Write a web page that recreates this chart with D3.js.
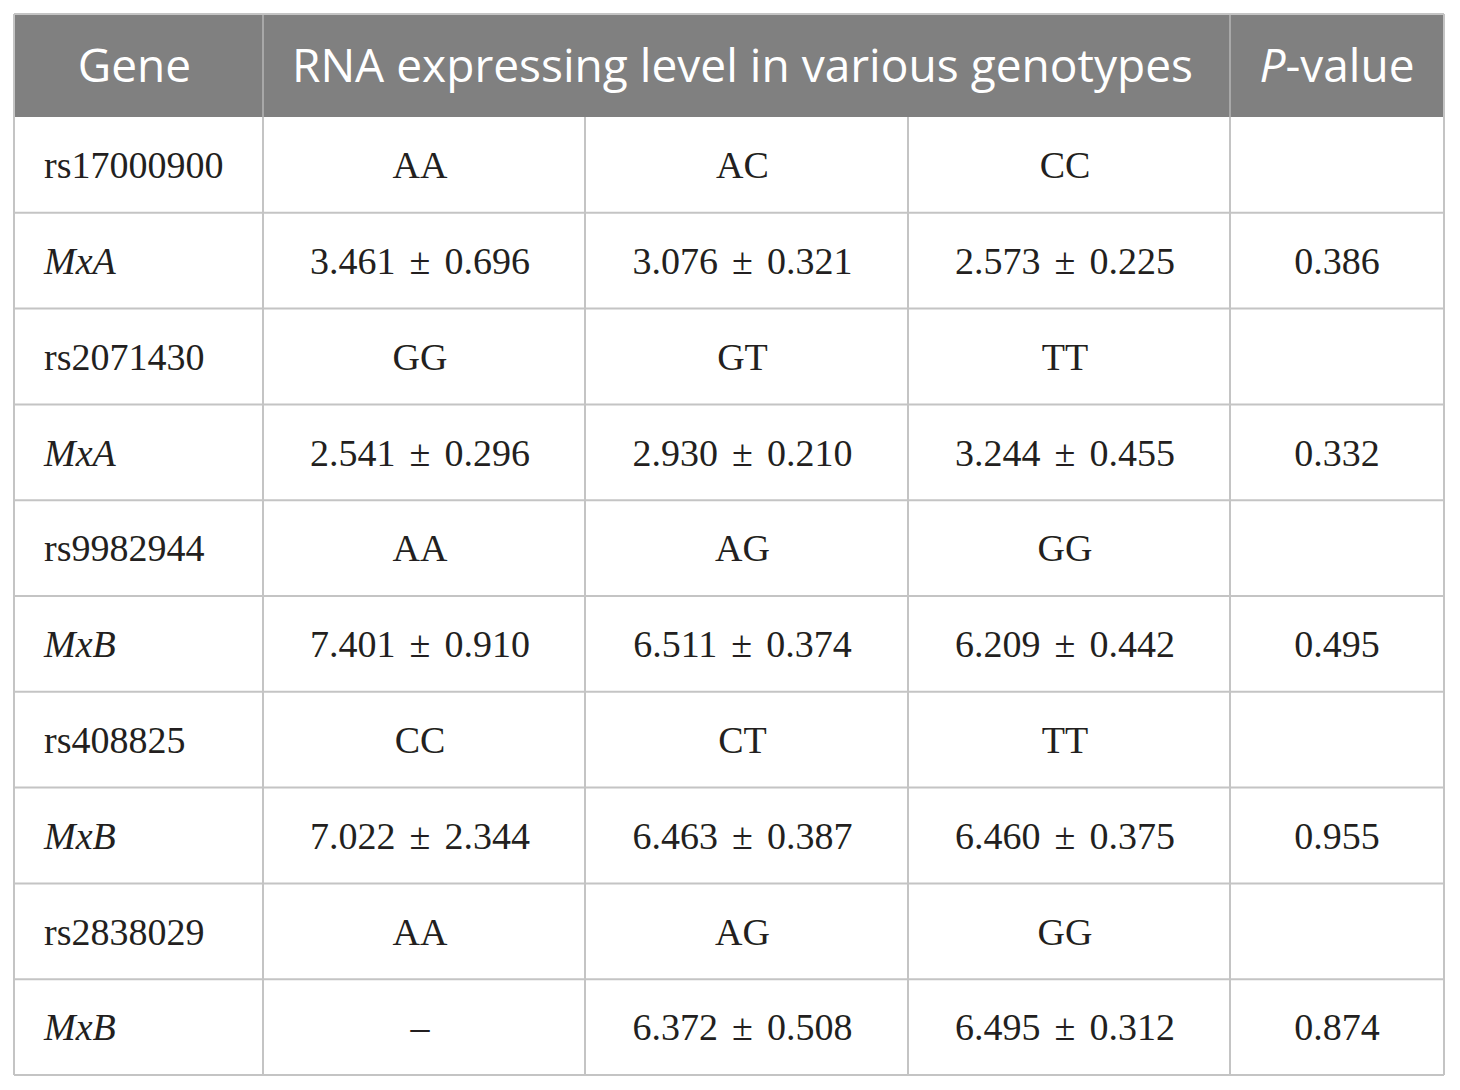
<!DOCTYPE html>
<html>
<head>
<meta charset="utf-8">
<script src="https://cdn.jsdelivr.net/npm/d3@7"></script>
<style>
    body { margin: 0; background: #fff; }
    svg { display: block; }
</style>
</head>
<body>
<svg id="chart" width="1460" height="1090"></svg>
<script>
// table data
const headers = ["Gene", "RNA expressing level in various genotypes", "P-value"];
const snps = ["rs17000900", "rs2071430", "rs9982944", "rs408825", "rs2838029"];
const genotypes = [
    ["AA", "AC", "CC"],
    ["GG", "GT", "TT"],
    ["AA", "AG", "GG"],
    ["CC", "CT", "TT"],
    ["AA", "AG", "GG"]
];
const genes = ["MxA", "MxA", "MxB", "MxB", "MxB"];
const means = [
    [3.461, 3.076, 2.573],
    [2.541, 2.930, 3.244],
    [7.401, 6.511, 6.209],
    [7.022, 6.463, 6.460],
    [null, 6.372, 6.495]
];
const sds = [
    [0.696, 0.321, 0.225],
    [0.296, 0.210, 0.455],
    [0.910, 0.374, 0.442],
    [2.344, 0.387, 0.375],
    [null, 0.508, 0.312]
];
const pValues = [0.386, 0.332, 0.495, 0.955, 0.874];

// layout
const colEdges = [14, 263, 585, 908, 1230, 1444];
const tableTop = 14, headerBottom = 117, tableBottom = 1075;
const nRows = snps.length * 2;

const svg = d3.select("#chart");
const fmt = d3.format(".3f");

const y = d3.scaleLinear().domain([0, nRows]).range([headerBottom, tableBottom]);
const rowH = y(1) - y(0);

// build body rows: each SNP row then gene row
const rows = [];
snps.forEach((snp, i) => {
    rows.push({ first: snp, italic: false, cells: genotypes[i], p: "" });
    rows.push({
        first: genes[i],
        italic: true,
        cells: means[i].map((m, j) => m == null ? "\u2013" : fmt(m) + " \u00b1 " + fmt(sds[i][j])),
        p: fmt(pValues[i])
    });
});

// header background
svg.append("rect")
    .attr("x", colEdges[0]).attr("y", tableTop)
    .attr("width", colEdges[5] - colEdges[0]).attr("height", headerBottom - tableTop)
    .attr("fill", "#808080");

// header separators
[colEdges[1], colEdges[4]].forEach(xp => {
    svg.append("line")
        .attr("x1", xp).attr("x2", xp)
        .attr("y1", tableTop).attr("y2", headerBottom)
        .attr("stroke", "#a8a8a8").attr("stroke-width", 2);
});

const headerCenters = [
    (colEdges[0] + colEdges[1]) / 2 - 4,
    (colEdges[1] + colEdges[4]) / 2 - 4,
    (colEdges[4] + colEdges[5]) / 2
];
const hy = (tableTop + headerBottom) / 2;
const hText = svg.append("g")
    .attr("font-family", "'Open Sans', 'Noto Sans', sans-serif")
    .attr("font-size", 46)
    .attr("fill", "#fff")
    .attr("text-anchor", "middle");

hText.append("text").attr("x", headerCenters[0]).attr("y", hy).attr("dy", "0.35em").text(headers[0]);
hText.append("text").attr("x", headerCenters[1]).attr("y", hy).attr("dy", "0.35em")
    .attr("textLength", 901).attr("lengthAdjust", "spacingAndGlyphs").text(headers[1]);
const pv = hText.append("text").attr("x", headerCenters[2]).attr("y", hy).attr("dy", "0.35em");
pv.append("tspan").attr("font-style", "italic").text("P");
pv.append("tspan").text("-value");

// body grid
const grid = svg.append("g").attr("stroke", "#c4c4c4").attr("stroke-width", 2);
d3.range(1, nRows + 1).forEach(r => {
    grid.append("line")
        .attr("x1", colEdges[0]).attr("x2", colEdges[5])
        .attr("y1", y(r)).attr("y2", y(r));
});
colEdges.forEach(xp => {
    grid.append("line")
        .attr("x1", xp).attr("x2", xp)
        .attr("y1", headerBottom).attr("y2", tableBottom);
});
// outer border on header
grid.append("line").attr("x1", colEdges[0]).attr("x2", colEdges[5]).attr("y1", tableTop).attr("y2", tableTop);
grid.append("line").attr("x1", colEdges[0]).attr("x2", colEdges[0]).attr("y1", tableTop).attr("y2", headerBottom);
grid.append("line").attr("x1", colEdges[5]).attr("x2", colEdges[5]).attr("y1", tableTop).attr("y2", headerBottom);

// body text
const body = svg.append("g")
    .attr("font-family", "'Liberation Serif', 'DejaVu Serif', serif")
    .attr("font-size", 38)
    .attr("fill", "#231f20");

const rowG = body.selectAll("g.row")
    .data(rows)
    .join("g")
    .attr("class", "row")
    .attr("transform", (d, i) => `translate(0,${y(i) + rowH / 2})`);

rowG.append("text")
    .attr("x", colEdges[0] + 30)
    .attr("dy", "0.35em")
    .attr("font-style", d => d.italic ? "italic" : "normal")
    .text(d => d.first);

[0, 1, 2].forEach(j => {
    rowG.append("text")
        .attr("x", (colEdges[j + 1] + colEdges[j + 2]) / 2 - 4)
        .attr("dy", "0.35em")
        .attr("text-anchor", "middle")
        .attr("word-spacing", 4.5)
        .text(d => d.cells[j]);
});

rowG.append("text")
    .attr("x", (colEdges[4] + colEdges[5]) / 2)
    .attr("dy", "0.35em")
    .attr("text-anchor", "middle")
    .text(d => d.p);
</script>
</body>
</html>
